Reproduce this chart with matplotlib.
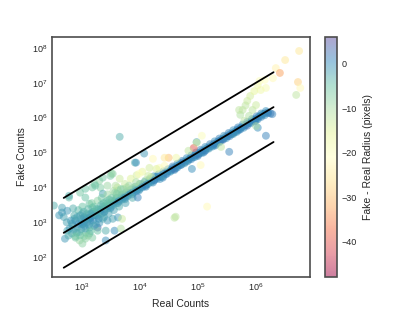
import matplotlib
matplotlib.use("Agg")
import matplotlib.pyplot as plt
import numpy as np
import seaborn as sns

sns.set_style("white")
plt.rcParams['font.family'] = ['Liberation Sans', 'DejaVu Sans']

# log10(real counts), log10(fake counts), fake - real radius (pixels)
band = [
    (3.00, 3.00, -1), (3.08, 3.08, 0), (3.16, 3.12, 1), (3.24, 3.26, -1), (3.32, 3.30, 0),
    (3.40, 3.38, 1), (3.48, 3.46, -1), (3.56, 3.55, 0), (3.64, 3.62, 1), (3.72, 3.70, 0),
    (3.80, 3.78, -1), (3.88, 3.86, 1), (3.96, 3.93, 0), (4.04, 4.02, 1), (4.12, 4.08, 0),
    (4.20, 4.18, -1), (4.26, 4.22, 1),
    (4.30, 4.25, 0), (4.34, 4.30, 1), (4.38, 4.31, -1), (4.41, 4.40, 2), (4.45, 4.38, 0),
    (4.48, 4.45, 1), (4.52, 4.47, -2), (4.55, 4.50, 0), (4.58, 4.56, 1), (4.62, 4.55, 2),
    (4.65, 4.62, 0), (4.68, 4.63, -1), (4.72, 4.66, 1), (4.75, 4.72, 0), (4.78, 4.72, 2),
    (4.82, 4.78, 0), (4.85, 4.80, -1), (4.88, 4.85, 1), (4.92, 4.86, 0), (4.95, 4.92, 2),
    (4.98, 4.93, 0), (5.02, 4.98, 1), (5.05, 5.00, -1), (5.08, 5.05, 0), (5.12, 5.06, 2),
    (5.15, 5.12, 0), (5.18, 5.13, 1), (5.22, 5.18, -1), (5.25, 5.20, 0), (5.28, 5.25, 2),
    (5.32, 5.27, 0), (5.35, 5.32, 1), (5.38, 5.33, 0), (5.42, 5.38, -1), (5.45, 5.40, 1),
    (5.48, 5.45, 0), (5.52, 5.47, 2), (5.55, 5.52, 0), (5.58, 5.53, 1), (5.62, 5.58, -1),
    (5.65, 5.60, 0), (5.68, 5.66, 1), (5.72, 5.68, 0), (5.75, 5.72, 2), (5.78, 5.75, 0),
    (5.82, 5.78, 1), (5.85, 5.82, -1), (5.88, 5.85, 0), (5.92, 5.88, 1), (5.95, 5.93, 0),
    (5.98, 5.95, 2), (6.02, 5.98, 0), (6.05, 6.03, 1), (6.08, 6.05, 0), (6.12, 6.10, -1),
    (6.15, 6.12, 1), (6.20, 6.15, 0), (6.25, 6.12, 2), (6.28, 6.10, 1), (6.17, 6.19, 0),
    (5.99, 5.91, 1), (6.03, 5.71, 0), (6.17, 5.48, 1), (5.54, 5.02, 1), (4.90, 4.53, 0),
    (4.98, 5.30, -2), (5.10, 5.00, 1), (5.30, 5.20, 0), (5.60, 5.55, 2), (4.40, 4.28, 1),
    (4.60, 4.50, 0), (4.70, 4.70, 1), (5.00, 4.90, 0), (5.40, 5.36, 1), (5.70, 5.64, 0),
]

band_low = [
    (3.03, 2.95, 0), (3.09, 3.12, -1), (3.15, 3.05, 1), (3.21, 3.20, 0), (3.27, 3.18, -2),
    (3.33, 3.36, 0), (3.39, 3.30, 1), (3.45, 3.47, -1), (3.51, 3.44, 0), (3.57, 3.60, -2),
    (3.63, 3.55, 1), (3.69, 3.72, 0), (3.75, 3.66, -1), (3.81, 3.84, 0), (3.87, 3.80, 1),
    (3.93, 3.96, -1), (3.99, 3.91, 0), (4.05, 4.08, 1), (4.11, 4.02, 0), (4.17, 4.20, -1),
    (4.23, 4.14, 0), (4.29, 4.31, 1), (4.35, 4.24, 0), (4.41, 4.33, -1), (4.47, 4.39, 1),
    (4.53, 4.45, 0), (4.59, 4.52, 2), (4.65, 4.57, 0), (4.71, 4.64, 1), (4.77, 4.69, -1),
    (4.83, 4.75, 0), (4.89, 4.81, 1), (4.95, 4.87, 0), (5.01, 4.94, 2), (5.07, 4.99, 0),
    (5.13, 5.05, 1), (5.19, 5.11, -1), (5.25, 5.17, 0), (5.31, 5.23, 1), (5.37, 5.29, 0),
    (5.43, 5.36, 2), (5.49, 5.41, 0), (5.55, 5.47, 1), (5.61, 5.53, -1), (5.67, 5.59, 0),
    (5.73, 5.66, 1), (5.79, 5.71, 0), (5.85, 5.77, 2), (5.91, 5.84, 0), (5.97, 5.89, 1),
    (6.03, 5.95, 0), (6.09, 6.02, 1), (6.15, 6.07, 0), (6.21, 6.13, 1),
]

band_high = [
    (3.05, 3.12, -2), (3.13, 3.22, -3), (3.21, 3.30, -2), (3.29, 3.38, -3), (3.37, 3.46, -2),
    (3.45, 3.55, -4), (3.53, 3.62, -3), (3.61, 3.70, -2), (3.69, 3.78, -3), (3.77, 3.86, -2),
    (3.85, 3.94, -3), (3.93, 4.02, -2), (4.01, 4.10, -3), (4.09, 4.16, -1), (4.17, 4.24, -2),
    (4.25, 4.32, -1), (4.33, 4.38, 0), (4.41, 4.46, -1), (4.49, 4.52, 0), (4.57, 4.60, 1),
    (4.65, 4.68, 0), (4.73, 4.76, 1), (4.81, 4.84, 0), (4.89, 4.92, 1), (4.97, 5.00, 0),
    (5.05, 5.08, 1), (5.13, 5.16, 0), (5.21, 5.24, 1), (5.29, 5.32, 0), (5.37, 5.40, 1),
    (5.45, 5.48, 0), (5.53, 5.56, 1), (5.61, 5.64, 0), (5.69, 5.72, 1), (5.77, 5.80, 0),
    (5.85, 5.88, 1), (5.93, 5.96, 0), (6.01, 6.04, 1), (6.09, 6.12, 0),
]

cluster = [
    (2.53, 3.48, -3), (2.67, 3.42, -2), (2.76, 3.33, -1), (2.67, 3.28, -1), (2.79, 3.71, -4),
    (2.98, 3.85, -6), (3.07, 3.71, -5), (3.19, 4.00, -6), (3.31, 4.19, -8), (3.33, 3.99, -7),
    (3.50, 4.33, -6), (3.54, 4.39, -8), (3.37, 3.82, -2), (3.45, 4.05, -9), (3.59, 4.05, -11),
    (3.66, 4.25, -13), (3.63, 3.91, -9), (3.14, 3.53, -5), (3.19, 3.42, -4), (3.02, 3.25, -3),
    (2.88, 3.10, -2), (2.84, 2.96, -2), (2.93, 2.85, -2), (3.05, 2.99, 0), (3.14, 3.10, -2),
    (3.28, 3.19, -4), (3.37, 3.10, -3), (3.45, 3.05, -1), (3.42, 2.76, -3), (3.28, 2.85, 4),
    (3.28, 2.76, -5), (3.19, 2.56, -7), (3.07, 2.53, -8), (2.97, 2.48, -9), (2.90, 2.56, -6),
    (3.14, 2.68, -4), (3.42, 2.48, 0), (3.02, 2.39, -8), (2.84, 2.68, -3), (2.76, 2.76, -2),
    (2.72, 2.53, -1), (3.57, 2.76, 0), (3.54, 3.10, -2), (3.63, 3.14, -1), (3.68, 2.82, -11),
    (3.70, 3.10, -13), (3.52, 4.39, -8), (3.23, 4.10, -7), (3.37, 4.28, -6), (2.79, 3.76, -3),
    (3.07, 3.96, -5), (3.24, 4.05, -5), (3.92, 4.71, -3),
    (2.85, 2.90, -2), (2.90, 3.05, -1), (2.95, 2.95, 0), (3.00, 3.10, -2), (3.00, 2.80, -2),
    (3.05, 3.15, -1), (3.05, 2.90, 0), (3.10, 3.00, -2), (3.10, 3.25, -3), (3.15, 3.15, -1),
    (3.15, 2.85, -2), (3.20, 3.05, 0), (3.20, 3.30, -4), (3.25, 3.20, -2), (3.25, 2.95, -1),
    (3.30, 3.35, -3), (3.30, 3.10, 0), (3.35, 3.25, -2), (3.40, 3.45, -4), (3.40, 3.30, -1),
    (3.45, 3.40, -3), (3.50, 3.55, -5), (3.50, 3.40, 0), (3.55, 3.50, -2), (3.60, 3.70, -6),
    (3.60, 3.55, -1), (3.65, 3.60, 0), (3.70, 3.80, -7), (3.70, 3.65, -2), (3.75, 3.70, 0),
    (3.80, 3.90, -8), (3.80, 3.75, -1), (3.85, 3.85, 0), (3.90, 4.00, -9), (3.90, 3.85, -2),
    (3.95, 3.90, 0), (4.00, 4.10, -10), (4.00, 3.95, -1), (4.05, 4.00, 0), (4.10, 4.20, -9),
    (4.10, 4.05, 1), (4.15, 4.10, 0), (4.20, 4.30, -12), (4.20, 4.15, -1), (4.25, 4.20, 1),
    (2.92, 2.70, -3), (2.98, 2.62, -5), (3.08, 2.70, -4), (3.12, 2.62, -8), (2.80, 2.82, -1),
    (2.75, 3.00, -2), (2.88, 3.20, -3), (2.95, 3.35, -4), (3.02, 3.45, -5), (3.18, 3.55, -7),
    (3.28, 3.62, -8), (3.35, 3.70, -6), (3.45, 3.80, -9), (3.55, 3.90, -10), (3.62, 4.00, -12),
    (3.75, 4.10, -13), (3.85, 4.25, -15), (3.95, 4.35, -14), (4.05, 4.45, -16), (3.48, 3.65, -4),
    (3.22, 3.45, -5), (3.38, 3.55, -4), (3.58, 3.85, -8), (3.68, 3.95, -7), (3.78, 4.00, -11),
    (2.82, 3.05, -1), (2.87, 2.78, -2), (2.93, 3.15, -2), (2.96, 2.72, -3), (3.01, 2.95, -1),
    (3.04, 3.30, -3), (3.07, 2.82, -2), (3.12, 3.38, -4), (3.13, 2.92, -1), (3.17, 3.25, -2),
    (3.22, 2.90, -2), (3.26, 3.38, -4), (3.31, 2.98, -1), (3.34, 3.50, -4), (3.39, 3.15, -2),
    (3.43, 3.60, -5), (3.47, 3.25, -2), (3.52, 3.70, -6), (3.56, 3.35, -2), (3.61, 3.82, -7),
    (3.65, 3.45, -3), (3.72, 3.95, -8), (3.76, 3.55, -2), (3.82, 4.05, -9), (3.88, 3.70, -3),
    (3.94, 4.15, -10), (2.98, 3.20, -2), (2.90, 2.60, -6), (3.05, 2.60, -7), (3.16, 2.75, -5),
    (2.86, 3.40, -3), (2.70, 3.15, -2), (2.62, 3.20, -1), (2.78, 2.62, -3),
]

scatter_mid = [
    (3.66, 5.45, -3), (4.08, 4.97, -1), (3.94, 4.71, 0), (3.97, 3.71, 1), (4.62, 3.16, -12),
    (3.99, 4.39, -20), (4.17, 4.56, -14), (4.34, 4.56, -20), (4.63, 4.85, -18),
    (5.07, 5.48, -20), (4.93, 5.13, -40), (4.84, 5.05, -12), (4.98, 5.28, -14), (4.50, 4.85, -30),
    (4.43, 4.85, -25), (4.23, 4.82, -22), (4.29, 4.53, -15), (4.43, 4.62, -22), (4.15, 4.33, -13),
    (5.05, 4.64, -22), (5.40, 5.16, -12), (5.16, 3.45, -22), (4.60, 3.13, -12),
]

upper_right = [
    (5.77, 6.22, -12), (5.85, 6.48, -13), (5.90, 6.62, -14), (5.97, 6.76, -16), (6.03, 6.93, -18),
    (6.06, 7.05, -20), (6.15, 7.08, -21), (6.29, 7.13, -22), (6.34, 7.42, -23), (6.41, 7.28, -33),
    (6.50, 7.65, -25), (6.74, 7.91, -25), (6.72, 7.02, -28), (6.76, 6.85, -22), (6.69, 6.65, -12),
    (5.80, 5.91, -12), (5.73, 6.08, -11), (5.94, 6.22, -12), (6.00, 6.36, -13), (5.71, 6.22, -12),
    (6.08, 6.79, -18), (6.17, 6.85, -19), (6.00, 5.76, -10), (5.88, 6.05, -11), (5.82, 6.35, -12),
]

line_x = [5e2, 2e6]
line_factors = [10.0, 1.0, 0.1]
x_ticks = [1e3, 1e4, 1e5, 1e6]
y_ticks = [1e2, 1e3, 1e4, 1e5, 1e6, 1e7, 1e8]
cb_ticks = [0, -10, -20, -30, -40]

pts = band + band_low + band_high + cluster + scatter_mid + upper_right
xs = np.array([10 ** p[0] for p in pts])
ys = np.array([10 ** p[1] for p in pts])
cs = np.array([p[2] for p in pts])

fig = plt.figure(figsize=(4.15, 3.11), dpi=100)
ax = fig.add_axes([0.125, 0.109, 0.622, 0.772])
cax = fig.add_axes([0.783, 0.109, 0.029, 0.772])

sc = ax.scatter(xs, ys, c=cs, cmap='Spectral', vmin=-48, vmax=6, s=32, alpha=0.5,
                linewidths=0)
for f in line_factors:
    ax.plot(line_x, [v * f for v in line_x], color='black', lw=1.3)

ax.set_xscale('log')
ax.set_yscale('log')
ax.set_xticks(x_ticks)
ax.set_yticks(y_ticks)
ax.minorticks_off()
ax.set_xlim(313, 8.45e6)
ax.set_ylim(10 ** 1.43, 10 ** 8.31)
ax.set_xlabel('Real Counts', fontsize=7.5)
ax.set_ylabel('Fake Counts', fontsize=7.5)
ax.tick_params(labelsize=6.5, length=0, pad=3)
for s in ax.spines.values():
    s.set_color('0.3')
    s.set_linewidth(1.2)

cb = fig.colorbar(sc, cax=cax, ticks=cb_ticks)
cb.set_label('Fake - Real Radius (pixels)', fontsize=7.5)
cb.ax.tick_params(labelsize=6.5, length=0)
cb.outline.set_edgecolor('0.3')
cb.outline.set_linewidth(1.2)

fig.savefig('out.png', dpi=100)
